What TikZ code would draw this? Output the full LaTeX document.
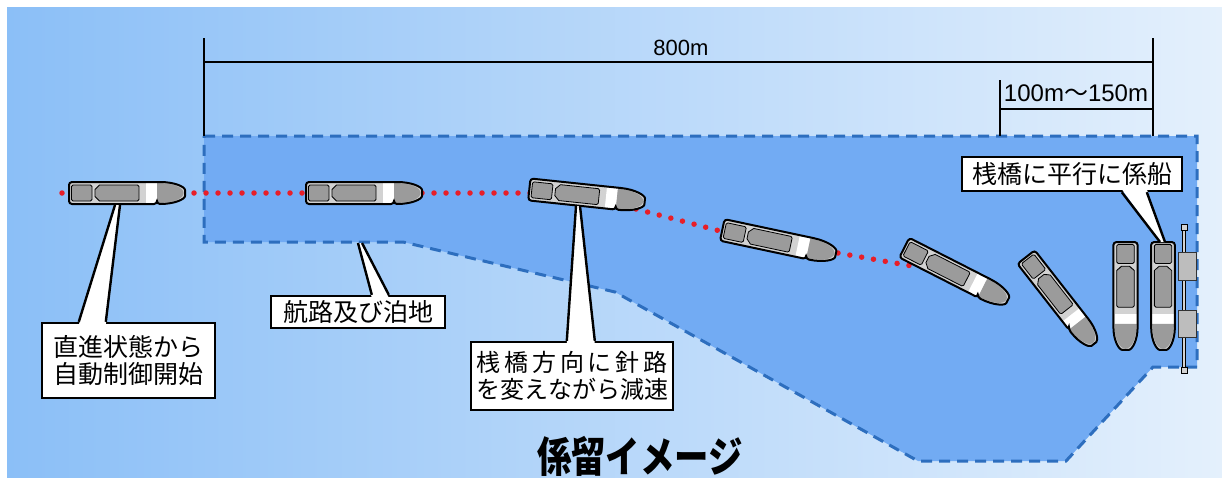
\documentclass[tikz,border=0pt]{standalone}
\usepackage{fontspec}
\setmainfont{Liberation Sans}
\newfontfamily\jfont{Noto Sans CJK JP}
\usetikzlibrary{calc}

\definecolor{seaL}{RGB}{139,191,247}
\definecolor{seaM}{RGB}{170,209,249}
\definecolor{seaR}{RGB}{228,240,252}
\definecolor{basin}{RGB}{114,171,243}
\definecolor{edgeblue}{RGB}{45,110,190}
\definecolor{hullgray}{RGB}{210,210,210}
\definecolor{deckgray}{RGB}{155,155,155}
\definecolor{routered}{RGB}{232,30,40}

\tikzset{
  ship/.pic={
    % hull body
    \fill[hullgray, rounded corners=3] (30,11) -- (-58,11) -- (-58,-11) -- (30,-11)
      .. controls (48,-11) and (58,-6) .. (58,0) .. controls (58,6) and (48,11) .. (30,11) -- cycle;
    % stern deck box
    \filldraw[fill=deckgray, draw=black, line width=0.8, rounded corners=1.5] (-55.5,-8) rectangle (-35,8);
    % cabin with notched aft end
    \filldraw[fill=deckgray, draw=black, line width=0.8, rounded corners=1.5]
      (-29,-8) -- (12,-8) -- (12,8) -- (-29,8) -- (-29,5) -- (-32,5) -- (-32,-5) -- (-29,-5) -- cycle;
    % white bridge strip
    \fill[white] (19,-10) rectangle (30,10);
    % bow
    \fill[deckgray] (30,-10) .. controls (47,-10) and (56.5,-5.5) .. (56.5,0)
      .. controls (56.5,5.5) and (47,10) .. (30,10) -- cycle;
    % hull outline
    \draw[black, line width=2, rounded corners=3] (30,11) -- (-58,11) -- (-58,-11) -- (30,-11)
      .. controls (48,-11) and (58,-6) .. (58,0) .. controls (58,6) and (48,11) .. (30,11) -- cycle;
  },
  callout/.style={draw=black, fill=white, line width=2.4pt, inner sep=0pt, align=center,
    font=\jfont\fontsize{25}{27}\selectfont},
  tailline/.style={draw=black, line width=2.4pt, line join=miter},
  dimline/.style={draw=black, line width=2.2pt},
  route/.style={draw=routered, line width=5.5pt, line cap=round, dash pattern=on 0pt off 12pt},
  basinedge/.style={draw=edgeblue, line width=3pt, dash pattern=on 11pt off 7pt}
}

\begin{document}
\begin{tikzpicture}[x=1pt,y=-1pt]
\useasboundingbox (0,0) rectangle (1222,477);

% sea background
\fill[white] (0,0) rectangle (1222,477);
\shade[left color=seaL, middle color=seaM, right color=seaR] (7,7) rectangle (1222,477);

% channel and anchorage area
\fill[basin] (204,136) -- (1197,136) -- (1197,367) -- (1153,367) -- (1066,461) -- (918,461)
  -- (615,292) -- (403,242) -- (204,242) -- cycle;
\draw[basinedge] (204,136) -- (1197,136) -- (1197,367) -- (1153,367) -- (1066,461) -- (918,461)
  -- (615,292) -- (403,242) -- (204,242) -- cycle;

% dimension lines
\coordinate (a0) at (204,38);   \coordinate (a1) at (204,136);
\coordinate (b0) at (1153,38);  \coordinate (b1) at (1153,136);
\coordinate (h0) at (204,62);   \coordinate (h1) at (1153,62);
\coordinate (c0) at (1000,80);  \coordinate (c1) at (1000,136);
\coordinate (k0) at (1000,109); \coordinate (k1) at (1153,109);
\draw[dimline] (a0) -- (a1);
\draw[dimline] (b0) -- (b1);
\draw[dimline] (h0) -- (h1);
\draw[dimline] (c0) -- (c1);
\draw[dimline] (k0) -- (k1);
\node[anchor=base, font=\fontsize{22}{22}\selectfont, inner sep=0pt] (len800) at (681,55) {800m};
\node[anchor=base, font=\fontsize{24}{24}\selectfont, inner sep=0pt] (len100) at (1076,101.5) {100m{\jfont 〜}150m};

% planned track
\coordinate (r0) at (62,193);  \coordinate (r1) at (530,193);
\coordinate (r2) at (636,209); \coordinate (r3) at (724,232);
\coordinate (r4) at (838,253); \coordinate (r5) at (912,266);
\draw[route] (r0) -- (r1);
\draw[route] (r2) -- (r3);
\draw[route] (r4) -- (r5);

% ship positions along the approach
\pic at (127,193) {ship};
\pic at (364,193) {ship};
\pic[rotate=-6] at (587,195.5) {ship};
\pic[rotate=-12] at (779,242) {ship};
\pic[rotate=-27] at (956,274) {ship};
\pic[rotate=-52, xscale=0.95] at (1060,300.5) {ship};
\pic[rotate=-90, xscale=0.93, yscale=1.1] at (1125.5,296) {ship};
\pic[rotate=-90, xscale=0.93, yscale=1.08] at (1163,296) {ship};

% pier
\filldraw[fill=hullgray, draw=black, line width=0.9] (1182.5,228) rectangle (1185.5,370);
\filldraw[fill=hullgray, draw=black, line width=0.9] (1181,224) rectangle (1187,230);
\filldraw[fill=hullgray, draw=black, line width=0.9] (1181,367) rectangle (1187,373);
\filldraw[fill=hullgray!90!black, draw=black!80, line width=0.8] (1178,252) rectangle (1196,280);
\filldraw[fill=hullgray!90!black, draw=black!80, line width=0.8] (1178,310) rectangle (1196,337);

% callouts
\node[callout, minimum width=173, minimum height=75] (n1) at (128.5,360.5) {直進状態から\\自動制御開始};
\node[callout, minimum width=174, minimum height=32] (n2) at (358,312) {航路及び泊地};
\node[callout, minimum width=202, minimum height=68, font=\jfont\fontsize{24}{27}\selectfont] (n3) at (572,376)
  {\makebox[191pt][s]{桟\hfil 橋\hfil 方\hfil 向\hfil に\hfil 針\hfil 路}\\を変えながら減速};
\node[callout, minimum width=220, minimum height=34] (n4) at (1072,174) {桟橋に平行に係船};

% callout pointers
\coordinate (p1a) at (115,205); \coordinate (p1b) at (120,205);
\coordinate (q1a) at ($(n1.north west)+(38,0)$); \coordinate (q1b) at ($(n1.north west)+(65,0)$);
\fill[white] ($(q1a)+(0,3)$) -- (p1a) -- (p1b) -- ($(q1b)+(0,3)$) -- cycle;
\draw[tailline] (q1a) -- (p1a); \draw[tailline] (p1b) -- (q1b);

\coordinate (p2a) at (358,243); \coordinate (p2b) at (362,243);
\coordinate (q2a) at ($(n2.north west)+(102,0)$); \coordinate (q2b) at ($(n2.north west)+(119,0)$);
\fill[white] ($(q2a)+(0,3)$) -- (p2a) -- (p2b) -- ($(q2b)+(0,3)$) -- cycle;
\draw[tailline] (q2a) -- (p2a); \draw[tailline] (p2b) -- (q2b);

\coordinate (p3a) at (576,206); \coordinate (p3b) at (580,206);
\coordinate (q3a) at ($(n3.north west)+(97,0)$); \coordinate (q3b) at ($(n3.north west)+(125,0)$);
\fill[white] ($(q3a)+(0,3)$) -- (p3a) -- (p3b) -- ($(q3b)+(0,3)$) -- cycle;
\draw[tailline] (q3a) -- (p3a); \draw[tailline] (p3b) -- (q3b);

\coordinate (p4a) at (1160,242); \coordinate (p4b) at (1165,242);
\coordinate (q4a) at ($(n4.south west)+(161,0)$); \coordinate (q4b) at ($(n4.south west)+(186,0)$);
\fill[white] ($(q4a)+(0,-3)$) -- (p4a) -- (p4b) -- ($(q4b)+(0,-3)$) -- cycle;
\draw[tailline] (q4a) -- (p4a); \draw[tailline] (p4b) -- (q4b);

% title
\node[font=\jfont\bfseries\fontsize{42}{42}\selectfont, xscale=0.82, inner sep=0pt] (title) at (640,456) {係留イメージ};
\end{tikzpicture}
\end{document}
